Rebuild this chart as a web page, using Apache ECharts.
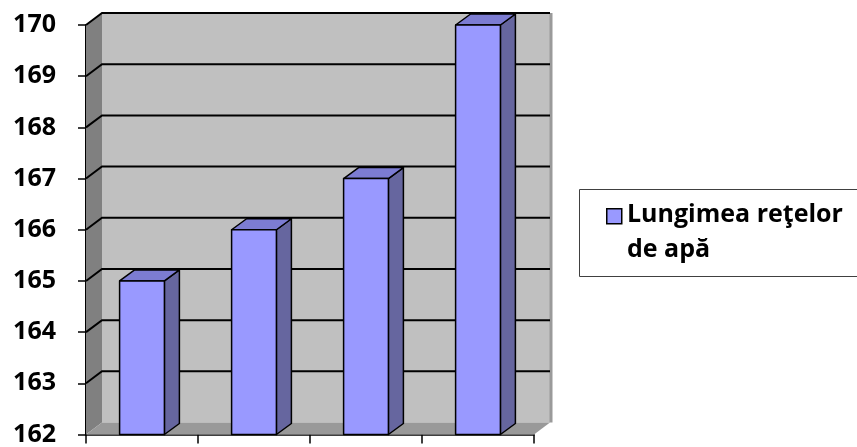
<!DOCTYPE html>
<html>
<head>
<meta charset="utf-8">
<script src="https://cdn.jsdelivr.net/npm/echarts@6.0.0/dist/echarts.min.js"></script>
<style>
  html, body { margin: 0; padding: 0; background: #fff; }
  #chart { width: 857px; height: 447px; }
</style>
</head>
<body>
<div id="chart"></div>
<script>
// data
const categories = ['1', '2', '3', '4'];          // no category labels are shown
const lungimeRetele = [165, 166, 167, 170];
const yTicks = [162, 163, 164, 165, 166, 167, 168, 169, 170];
const seriesName = 'Lungimea reţelor\nde apă';

// fake-3D look of the old Excel chart
const WALL_DX = 16, WALL_DY = -12;   // back wall offset
const BAR_DX = 15, BAR_DY = -11;     // bar depth
const FONT = '"Open Sans", "Noto Sans", sans-serif';

const yMin = yTicks[0], yMax = yTicks[yTicks.length - 1];

// side wall, back wall and floor
const renderWalls = (params, api) => {
  const cs = params.coordSys;
  const x0 = cs.x, x1 = cs.x + cs.width;
  const yTop = api.coord([0, yMax])[1], yBot = api.coord([0, yMin])[1];
  return {
    type: 'group',
    children: [
      { type: 'polygon', shape: { points: [[x0 + WALL_DX, yTop + WALL_DY], [x1 + WALL_DX, yTop + WALL_DY],
          [x1 + WALL_DX, yBot + WALL_DY], [x0 + WALL_DX, yBot + WALL_DY]] },
        style: { fill: '#c0c0c0', stroke: null } },
      { type: 'line', shape: { x1: x1 + WALL_DX + 1, y1: yTop + WALL_DY, x2: x1 + WALL_DX + 1, y2: yBot + WALL_DY },
        style: { stroke: '#9a9a9a', lineWidth: 3 } },
      { type: 'polygon', shape: { points: [[x0, yTop], [x0 + WALL_DX, yTop + WALL_DY],
          [x0 + WALL_DX, yBot + WALL_DY], [x0, yBot]] },
        style: { fill: '#808080', stroke: null } },
      { type: 'polygon', shape: { points: [[x0, yBot], [x0 + WALL_DX, yBot + WALL_DY],
          [x1 + WALL_DX, yBot + WALL_DY], [x1, yBot]] },
        style: { fill: '#999999', stroke: null } },
    ],
  };
};

// one grid line per tick: diagonal across the side wall, then across the back wall
const renderGridLine = (params, api) => {
  const v = api.value(0);
  if (v === yMin) return null;
  const cs = params.coordSys;
  const y = api.coord([0, v])[1];
  return {
    type: 'polyline',
    shape: { points: [[cs.x, y], [cs.x + WALL_DX, y + WALL_DY], [cs.x + cs.width + WALL_DX, y + WALL_DY]] },
    style: { stroke: '#000', lineWidth: 2, fill: null },
  };
};

const renderBar = (params, api) => {
  const base = api.coord([api.value(0), yMin]);
  const top = api.coord([api.value(0), api.value(1)]);
  const w = api.size([1, 0])[0] * 0.4;
  const xl = base[0] - w / 2, xr = xl + w;
  const yt = top[1], yb = base[1];
  const edge = { stroke: '#000', lineWidth: 1.5, lineJoin: 'round' };
  return {
    type: 'group',
    children: [
      { type: 'polygon', shape: { points: [[xr, yt], [xr + BAR_DX, yt + BAR_DY], [xr + BAR_DX, yb + BAR_DY], [xr, yb]] },
        style: Object.assign({ fill: '#66669f' }, edge) },
      { type: 'polygon', shape: { points: [[xl, yt], [xl + BAR_DX, yt + BAR_DY], [xr + BAR_DX, yt + BAR_DY], [xr, yt]] },
        style: Object.assign({ fill: '#7c7cd2' }, edge) },
      { type: 'rect', shape: { x: xl, y: yt, width: w, height: yb - yt },
        style: Object.assign({ fill: '#9999ff' }, edge) },
    ],
  };
};

const chart = echarts.init(document.getElementById('chart'));
chart.setOption({
  animation: false,
  backgroundColor: '#fff',
  textStyle: { fontFamily: FONT },
  grid: { left: 86, right: 323, top: 25, bottom: 9 },
  xAxis: {
    type: 'category',
    data: categories,
    boundaryGap: true,
    axisLine: { lineStyle: { color: '#000', width: 1.5 } },
    axisTick: { show: true, alignWithLabel: false, length: 9, lineStyle: { color: '#000', width: 1.5 } },
    axisLabel: { show: false },
    splitLine: { show: false },
  },
  yAxis: {
    type: 'value',
    min: yMin, max: yMax, interval: 1,
    axisLine: { show: true, lineStyle: { color: '#000', width: 2 } },
    axisTick: { show: true, length: 8, lineStyle: { color: '#000', width: 1.5 } },
    axisLabel: { color: '#000', fontWeight: 'bold', fontSize: 25, fontFamily: FONT, margin: 30 },
    splitLine: { show: false },
  },
  series: [
    { type: 'custom', name: 'walls', silent: true, renderItem: renderWalls, data: [[0, yMin]], z: 1 },
    { type: 'custom', name: 'grid', silent: true, renderItem: renderGridLine, data: yTicks.map(v => [v]),
      encode: { y: 0 }, z: 2 },
    { type: 'custom', name: seriesName, renderItem: renderBar,
      data: lungimeRetele.map((v, i) => [i, v]), z: 3 },
  ],
  graphic: [
    { type: 'rect', left: 579, top: 189, shape: { width: 300, height: 87 },
      style: { fill: '#fff', stroke: '#404040', lineWidth: 1 } },
    { type: 'rect', left: 606, top: 208, shape: { width: 15, height: 15 },
      style: { fill: '#9999ff', stroke: '#000', lineWidth: 1.5 } },
    { type: 'text', left: 627, top: 197,
      style: { text: seriesName, fill: '#000', font: 'bold 25px ' + FONT, lineHeight: 35 } },
  ],
});
</script>
</body>
</html>
